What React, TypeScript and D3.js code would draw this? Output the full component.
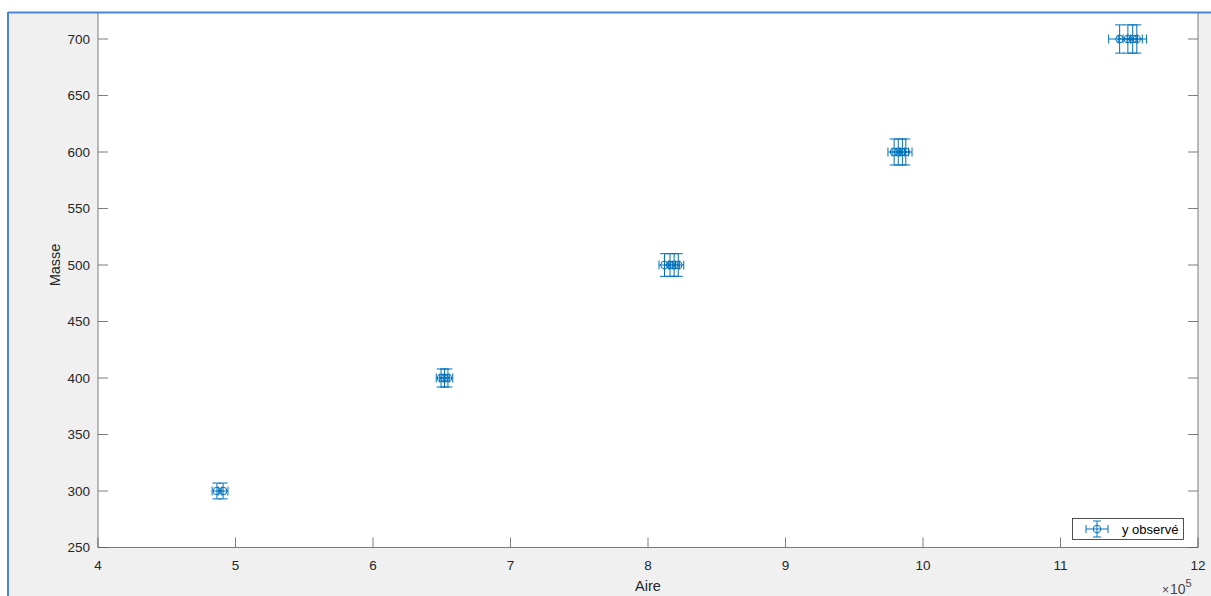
import React from "react";
import * as d3 from "d3";

// Data (area in units of 10^5, mass)
const areas: number[] = [
  4.865, 4.91,
  6.495, 6.52, 6.545,
  8.12, 8.16, 8.19, 8.22,
  9.79, 9.82, 9.85, 9.875,
  11.43, 11.49, 11.525, 11.555,
];
const masses: number[] = [
  300, 300,
  400, 400, 400,
  500, 500, 500, 500,
  600, 600, 600, 600,
  700, 700, 700, 700,
];
const areaErr: number[] = [
  0.035, 0.035,
  0.035, 0.035, 0.035,
  0.04, 0.04, 0.04, 0.04,
  0.045, 0.045, 0.045, 0.045,
  0.08, 0.07, 0.07, 0.07,
];
const massErr: number[] = [
  7, 7,
  8, 8, 8,
  10, 10, 10, 10,
  11.5, 11.5, 11.5, 11.5,
  12.5, 12.5, 12.5, 12.5,
];
const xTicks: number[] = [4, 5, 6, 7, 8, 9, 10, 11, 12];
const yTicks: number[] = [250, 300, 350, 400, 450, 500, 550, 600, 650, 700];
const xDomain: [number, number] = [4, 12];
const yDomain: [number, number] = [250, 750];
const xLabel = "Aire";
const yLabel = "Masse";
const legendLabel = "y observé";

const W = 1211;
const H = 596;
const BLUE = "#0072BD";
const AX = "#262626";
const FONT = "Liberation Sans, Arial, Helvetica, sans-serif";

export default function App() {
  const left = 98;
  const right = 1198;
  const bottom = 547.5;
  const top = -17.5;
  const x = d3.scaleLinear().domain(xDomain).range([left, right]);
  const y = d3.scaleLinear().domain(yDomain).range([bottom, top]);
  const tickLen = 10;
  const cap = 4.5;
  const r = 3.8;

  const pts = areas.map((a, i) => ({ a, m: masses[i], ea: areaErr[i], em: massErr[i] }));

  return (
    <svg
      width={W}
      height={H}
      style={{ position: "absolute", left: 0, top: 0, display: "block", background: "#ffffff" }}
      fontFamily={FONT}
    >
      <defs>
        <clipPath id="fig">
          <rect x={8} y={12} width={W - 8} height={H - 12} />
        </clipPath>
        <clipPath id="plot">
          <rect x={left} y={top} width={right - left} height={bottom - top} />
        </clipPath>
      </defs>
      <g clipPath="url(#fig)">
        <rect x={8} y={12} width={W - 8} height={H - 12} fill="#f0f0f0" />
        <rect x={left} y={top} width={right - left} height={bottom - top} fill="#ffffff" />
        {/* data */}
        <g clipPath="url(#plot)" stroke={BLUE} strokeWidth={1} fill="none">
          {pts.map((p, i) => {
            const cx = x(p.a);
            const cy = y(p.m);
            const x0 = x(p.a - p.ea);
            const x1 = x(p.a + p.ea);
            const y0 = y(p.m - p.em);
            const y1 = y(p.m + p.em);
            return (
              <g key={i}>
                <line x1={cx} x2={cx} y1={y0} y2={y1} />
                <line x1={cx - cap} x2={cx + cap} y1={y0} y2={y0} />
                <line x1={cx - cap} x2={cx + cap} y1={y1} y2={y1} />
                <line x1={x0} x2={x1} y1={cy} y2={cy} />
                <line x1={x0} x2={x0} y1={cy - cap} y2={cy + cap} />
                <line x1={x1} x2={x1} y1={cy - cap} y2={cy + cap} />
                <circle cx={cx} cy={cy} r={r} />
              </g>
            );
          })}
        </g>
        {/* axes */}
        <g stroke={AX} strokeWidth={0.8} fill="none" opacity={0.75}>
          <line x1={left} x2={left} y1={top} y2={bottom} />
          <line x1={right} x2={right} y1={top} y2={bottom} />
          <line x1={left} x2={right} y1={bottom} y2={bottom} />
          {yTicks.map((t) => (
            <g key={"yt" + t}>
              <line x1={left} x2={left + tickLen} y1={y(t)} y2={y(t)} />
              <line x1={right} x2={right - tickLen} y1={y(t)} y2={y(t)} />
            </g>
          ))}
          {xTicks.map((t) => (
            <line key={"xt" + t} x1={x(t)} x2={x(t)} y1={bottom} y2={bottom - tickLen} />
          ))}
        </g>
        <g fill={AX} fontSize={13.5}>
          {yTicks.map((t) => (
            <text key={"yl" + t} x={left - 8} y={y(t)} dy="0.36em" textAnchor="end">
              {t}
            </text>
          ))}
          {xTicks.map((t) => (
            <text key={"xl" + t} x={x(t)} y={570} textAnchor="middle">
              {t}
            </text>
          ))}
        </g>
        <text x={(left + right) / 2} y={591} textAnchor="middle" fontSize={14.5} fill={AX}>
          {xLabel}
        </text>
        <text
          transform={`translate(60, ${(top + bottom) / 2}) rotate(-90)`}
          textAnchor="middle"
          fontSize={14.5}
          fill={AX}
        >
          {yLabel}
        </text>
        <text x={1162} y={594} fontSize={14} fill={AX} opacity={0.85}>
          <tspan fontSize={12}>×</tspan>
          <tspan dx={1}>10</tspan>
          <tspan fontSize={11} dy={-7}>5</tspan>
        </text>
        {/* legend */}
        <g>
          <rect x={1072.5} y={518.5} width={111} height={21} fill="#ffffff" stroke={AX} strokeWidth={0.8} />
          <g stroke={BLUE} strokeWidth={1} fill="none">
            <line x1={1086} x2={1108} y1={529} y2={529} />
            <line x1={1086} x2={1086} y1={525} y2={533} />
            <line x1={1108} x2={1108} y1={525} y2={533} />
            <line x1={1097} x2={1097} y1={521} y2={537} />
            <line x1={1093} x2={1101} y1={521} y2={521} />
            <line x1={1093} x2={1101} y1={537} y2={537} />
            <circle cx={1097} cy={529} r={r} />
          </g>
          <text x={1122} y={533.5} fontSize={13} fill="#000000">
            {legendLabel}
          </text>
        </g>
      </g>
      {/* figure window border */}
      <line x1={8} x2={W} y1={12.5} y2={12.5} stroke="#4a86d4" strokeWidth={2} />
      <line x1={8} x2={8} y1={12} y2={H} stroke="#4a86d4" strokeWidth={2} />
    </svg>
  );
}
